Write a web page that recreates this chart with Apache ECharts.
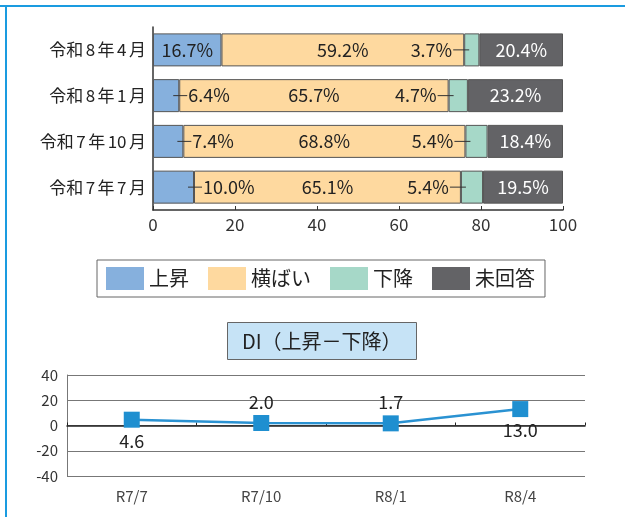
<!DOCTYPE html>
<html><head><meta charset="utf-8">
<script src="https://cdn.jsdelivr.net/npm/echarts@6/dist/echarts.min.js"></script>
<style>html,body{margin:0;padding:0;background:#fff}#c{width:625px;height:517px}</style>
</head><body><div id="c"></div><script>
// ---- data ----
const periods = ['令和7年7月', '令和7年10月', '令和8年1月', '令和8年4月'];
const seriesNames = ['上昇', '横ばい', '下降', '未回答'];
const riseVals = [10.0, 7.4, 6.4, 16.7];
const flatVals = [65.1, 68.8, 65.7, 59.2];
const fallVals = [5.4, 5.4, 4.7, 3.7];
const noAnsVals = [19.5, 18.4, 23.2, 20.4];
const diCats = ['R7/7', 'R7/10', 'R8/1', 'R8/4'];
const diVals = [4.6, 2.0, 1.7, 13.0];
const diLabelPos = ['bottom', 'top', 'top', 'bottom'];
const diTitle = 'DI（上昇－下降）';

// ---- styles ----
const FONT = 'Noto Sans CJK JP';
const colors = ['#86b0dd', '#fed99f', '#a6d8c8', '#636366'];
const pct = v => v.toFixed(1) + '%';
const rich = {
  l: { width: 14, height: 1, backgroundColor: '#333' },
  t: { fontSize: 18, color: '#222', fontFamily: FONT, padding: [0, 0, 0, 1] },
  t2: { fontSize: 18, color: '#222', fontFamily: FONT, padding: [0, 1, 0, 0] },
  l2: { width: 16, height: 1, backgroundColor: '#333' }
};

const riseData = riseVals.map(v => v >= 12
  ? { value: v, label: { position: 'inside', formatter: pct(v) } }
  : { value: v, label: { position: 'right', distance: 0, offset: [-6, 0], formatter: '{l|}{t|' + pct(v) + '}', rich } });
const fallData = fallVals.map(v => ({ value: v, label: { position: 'left', distance: 0, offset: [5, 0], formatter: '{t2|' + pct(v) + '}{l2|}', rich } }));

const barCommon = {
  type: 'bar', stack: 'a', barWidth: 33, xAxisIndex: 0, yAxisIndex: 0,
  itemStyle: { borderColor: '#555', borderWidth: 1 },
  label: { show: true, fontSize: 18, color: '#222', fontFamily: FONT, position: 'inside' }
};

// category label: digit groups get a little side spacing, as in the original typesetting
const catFormatter = s => s.replace(/(\d+)/g, '{d|$1}').replace(/([^\x00-\x7f]+)/g, '{c|$1}');
const catRich = {
  c: { fontSize: 17, color: '#222', fontFamily: FONT },
  d: { fontSize: 17, color: '#222', fontFamily: FONT, padding: [0, 2.5, 0, 2.5] }
};

const chart = echarts.init(document.getElementById('c'));
chart.setOption({
  animation: false,
  textStyle: { fontFamily: FONT },
  graphic: [
    { type: 'rect', shape: { x: 0, y: 5, width: 625, height: 2 }, style: { fill: '#1a9be0' } },
    { type: 'rect', shape: { x: 5, y: 5, width: 2, height: 512 }, style: { fill: '#1a9be0' } }
  ],
  title: {
    text: diTitle, left: 227, top: 322,
    backgroundColor: '#c6e3f6', borderColor: '#666', borderWidth: 1,
    padding: [9, 15, 9, 15],
    textStyle: { fontSize: 20, fontWeight: 'normal', color: '#222', fontFamily: FONT }
  },
  legend: {
    data: seriesNames, left: 97, top: 260, icon: 'rect',
    itemWidth: 38, itemHeight: 23, itemGap: 19,
    padding: [7, 10, 7, 9], borderColor: '#666', borderWidth: 1,
    itemStyle: { borderWidth: 0 },
    textStyle: { fontSize: 20, color: '#222', fontFamily: FONT }
  },
  grid: [
    { left: 153, right: 62, top: 27, height: 183 },
    { left: 67, right: 40, top: 375, height: 101 }
  ],
  xAxis: [
    {
      gridIndex: 0, type: 'value', min: 0, max: 100, interval: 20,
      axisLine: { show: true, lineStyle: { color: '#333', width: 1.5 } },
      axisTick: { show: true, inside: true, length: 4, lineStyle: { color: '#333' } },
      axisLabel: { fontSize: 17, color: '#333', margin: 6, fontFamily: FONT },
      splitLine: { show: false }
    },
    {
      gridIndex: 1, type: 'category', data: diCats, boundaryGap: true,
      axisLine: { onZero: true, lineStyle: { color: '#222', width: 1.5 } },
      axisTick: { show: true, inside: true, length: 3, lineStyle: { color: '#222' } },
      axisLabel: { fontSize: 15, color: '#444', fontFamily: FONT, margin: 13 }
    }
  ],
  yAxis: [
    {
      gridIndex: 0, type: 'category', data: periods,
      axisLine: { show: true, lineStyle: { color: '#333', width: 1.5 } },
      axisTick: { show: false },
      axisLabel: { margin: 7, formatter: catFormatter, rich: catRich }
    },
    {
      gridIndex: 1, type: 'value', min: -40, max: 40, interval: 20,
      axisLine: { show: true, lineStyle: { color: '#777', width: 1 } },
      axisTick: { show: false },
      axisLabel: { fontSize: 15, color: '#333', margin: 9, fontFamily: FONT },
      splitLine: { show: true, lineStyle: { color: '#777', width: 1 } }
    }
  ],
  series: [
    Object.assign({}, barCommon, { name: seriesNames[0], data: riseData, itemStyle: { color: colors[0], borderColor: '#555', borderWidth: 1 } }),
    Object.assign({}, barCommon, { name: seriesNames[1], data: flatVals, itemStyle: { color: colors[1], borderColor: '#555', borderWidth: 1 },
      label: Object.assign({}, barCommon.label, { formatter: p => pct(p.value) }) }),
    Object.assign({}, barCommon, { name: seriesNames[2], data: fallData, itemStyle: { color: colors[2], borderColor: '#555', borderWidth: 1 } }),
    Object.assign({}, barCommon, { name: seriesNames[3], data: noAnsVals, itemStyle: { color: colors[3], borderColor: '#555', borderWidth: 1 },
      label: Object.assign({}, barCommon.label, { color: '#fff', formatter: p => pct(p.value) }) }),
    {
      name: 'DI', type: 'line', xAxisIndex: 1, yAxisIndex: 1,
      data: diVals.map((v, i) => ({ value: v, label: { position: diLabelPos[i] } })),
      symbol: 'rect', symbolSize: 16,
      lineStyle: { color: '#2a92d2', width: 2.5 },
      itemStyle: { color: '#1f8fd0' },
      label: { show: true, fontSize: 18, color: '#222', fontFamily: FONT, distance: 4, formatter: p => p.value.toFixed(1) }
    }
  ]
});
</script></body></html>
